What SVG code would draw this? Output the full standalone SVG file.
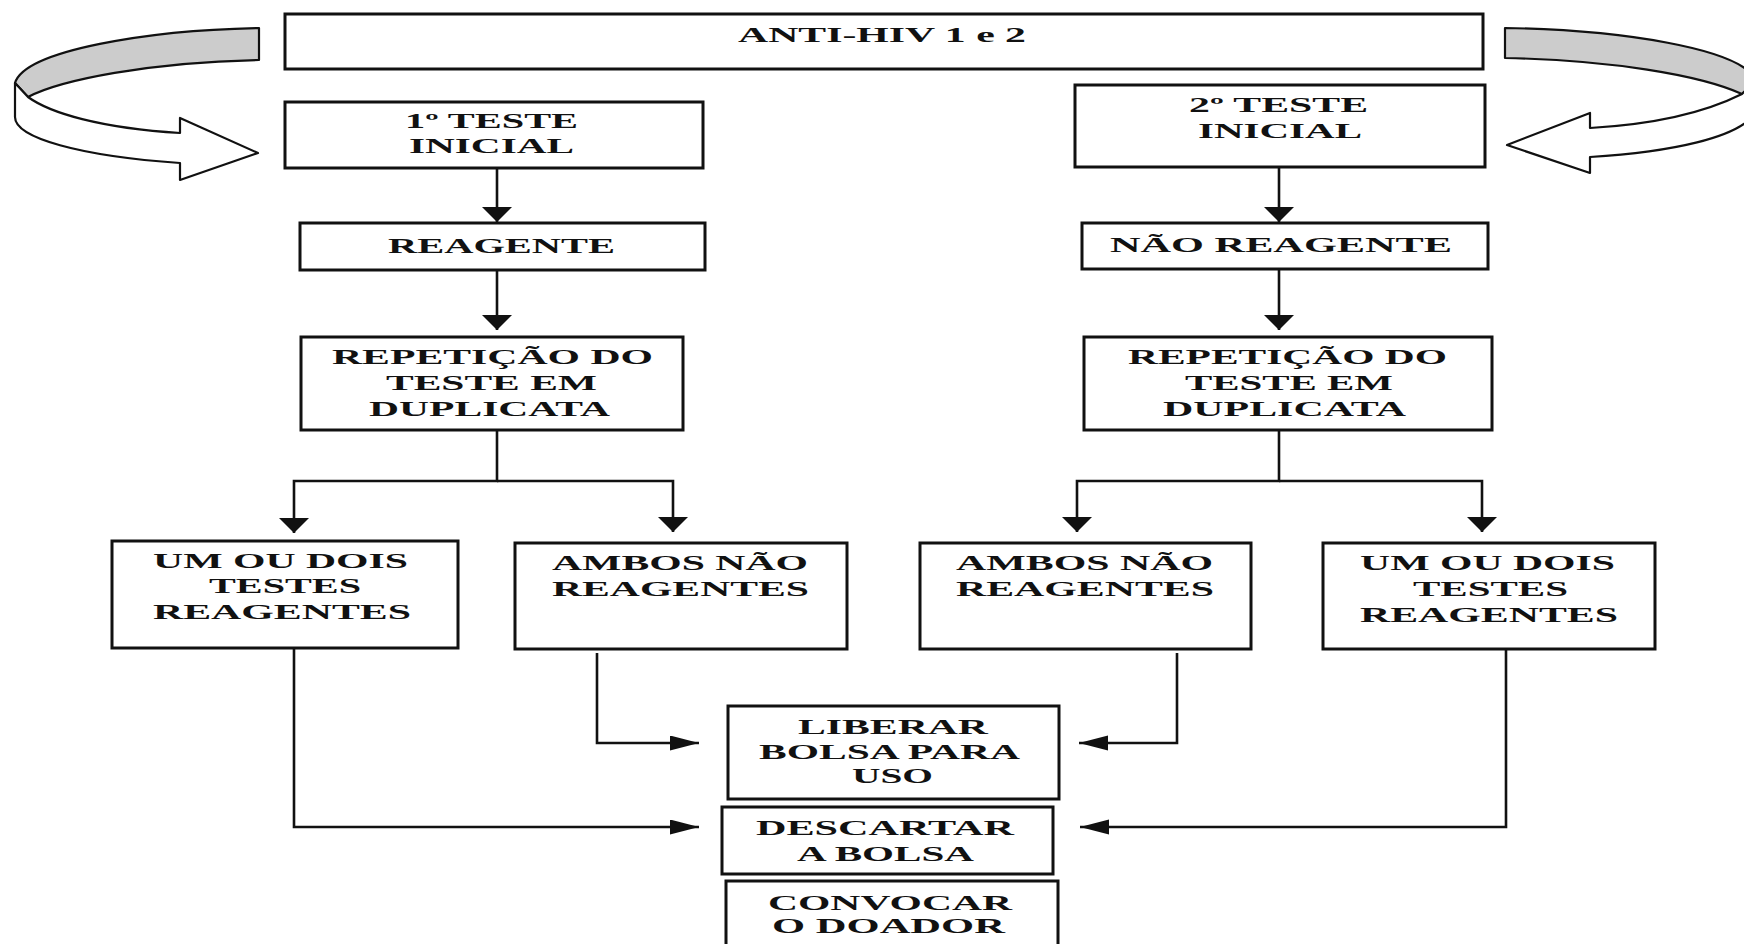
<svg xmlns="http://www.w3.org/2000/svg" width="1744" height="944" viewBox="0 0 1744 944">
<style>
.box{fill:#fff;stroke:#111;stroke-width:3}
.t{font-family:"Liberation Serif","Times New Roman",serif;font-weight:bold;font-size:21px;fill:#111}
.ln{fill:none;stroke:#111;stroke-width:2.6}
.rib{stroke:#111;stroke-width:2.2;stroke-linejoin:round}
</style>
<defs>
<marker id="av" viewBox="0 0 16 31" markerWidth="16" markerHeight="31" refX="15" refY="15" orient="auto" markerUnits="userSpaceOnUse"><path d="M0,0 L15,15 L0,30 Z" fill="#111"/></marker>
<marker id="ah" viewBox="0 0 30 16" markerWidth="30" markerHeight="16" refX="29" refY="7.5" orient="auto" markerUnits="userSpaceOnUse"><path d="M0,0 L29,7.5 L0,15 Z" fill="#111"/></marker>
</defs>
<rect width="1744" height="944" fill="#fff"/>
<g id="connectors">
<g id="curveL">
<path class="rib" fill="#cccccc" d="M259,28 C150,30 25,50 15,83 L28,97 C60,80 150,62 259,60 Z"/>
<path class="rib" fill="#fff" d="M15,83 L15,117 C15,138 80,156 180,163 L180,180 L258,153 L180,118 L180,133 C100,128 50,113 28,97 Z"/>
</g>
<g id="curveR">
<path class="rib" fill="#cccccc" d="M1505,28 C1620,30 1740,48 1756,80 L1742,94 C1700,75 1610,60 1505,58 Z"/>
<path class="rib" fill="#fff" d="M1756,80 L1756,112 C1740,138 1670,152 1590,157 L1590,173 L1507,145 L1590,113 L1590,128 C1660,124 1710,110 1742,94 Z"/>
</g>
<path class="ln" d="M497,168 V222" marker-end="url(#av)"/>
<path class="ln" d="M497,270 V330" marker-end="url(#av)"/>
<path class="ln" d="M497,430 V481 H294 V533" marker-end="url(#av)"/>
<path class="ln" d="M497,481 H673 V532" marker-end="url(#av)"/>
<path class="ln" d="M1279,167 V222" marker-end="url(#av)"/>
<path class="ln" d="M1279,269 V330" marker-end="url(#av)"/>
<path class="ln" d="M1279,430 V481 H1077 V532" marker-end="url(#av)"/>
<path class="ln" d="M1279,481 H1482 V532" marker-end="url(#av)"/>
<path class="ln" d="M294,648 V827 H699" marker-end="url(#ah)"/>
<path class="ln" d="M597,653 V743 H699" marker-end="url(#ah)"/>
<path class="ln" d="M1177,653 V743 H1079" marker-end="url(#ah)"/>
<path class="ln" d="M1506,649 V827 H1080" marker-end="url(#ah)"/>
</g>
<g id="anti-hiv">
<rect class="box" x="285" y="14" width="1198" height="55"/>
<text class="t" x="738" y="42" textLength="288" lengthAdjust="spacingAndGlyphs">ANTI-HIV 1 e 2</text>
</g>
<g id="teste1">
<rect class="box" x="285" y="102" width="418" height="66"/>
<text class="t" x="405" y="128" textLength="173" lengthAdjust="spacingAndGlyphs">1º TESTE</text>
<text class="t" x="409" y="153" textLength="165" lengthAdjust="spacingAndGlyphs">INICIAL</text>
</g>
<g id="teste2">
<rect class="box" x="1075" y="85" width="410" height="82"/>
<text class="t" x="1189" y="112" textLength="179" lengthAdjust="spacingAndGlyphs">2º TESTE</text>
<text class="t" x="1198" y="138" textLength="164" lengthAdjust="spacingAndGlyphs">INICIAL</text>
</g>
<g id="reagente">
<rect class="box" x="300" y="223" width="405" height="47"/>
<text class="t" x="388" y="253" textLength="227" lengthAdjust="spacingAndGlyphs">REAGENTE</text>
</g>
<g id="nao-reagente">
<rect class="box" x="1082" y="223" width="406" height="46"/>
<text class="t" x="1110" y="252" textLength="342" lengthAdjust="spacingAndGlyphs">NÃO REAGENTE</text>
</g>
<g id="repeticao1">
<rect class="box" x="301" y="337" width="382" height="93"/>
<text class="t" x="332" y="364" textLength="321" lengthAdjust="spacingAndGlyphs">REPETIÇÃO DO</text>
<text class="t" x="386" y="390" textLength="211" lengthAdjust="spacingAndGlyphs">TESTE EM</text>
<text class="t" x="369" y="416" textLength="241" lengthAdjust="spacingAndGlyphs">DUPLICATA</text>
</g>
<g id="repeticao2">
<rect class="box" x="1084" y="337" width="408" height="93"/>
<text class="t" x="1128" y="364" textLength="319" lengthAdjust="spacingAndGlyphs">REPETIÇÃO DO</text>
<text class="t" x="1185" y="390" textLength="208" lengthAdjust="spacingAndGlyphs">TESTE EM</text>
<text class="t" x="1163" y="416" textLength="243" lengthAdjust="spacingAndGlyphs">DUPLICATA</text>
</g>
<g id="um-dois-1">
<rect class="box" x="112" y="541" width="346" height="107"/>
<text class="t" x="153" y="568" textLength="255" lengthAdjust="spacingAndGlyphs">UM OU DOIS</text>
<text class="t" x="209" y="593" textLength="152" lengthAdjust="spacingAndGlyphs">TESTES</text>
<text class="t" x="153" y="619" textLength="258" lengthAdjust="spacingAndGlyphs">REAGENTES</text>
</g>
<g id="ambos-1">
<rect class="box" x="515" y="543" width="332" height="106"/>
<text class="t" x="552" y="570" textLength="256" lengthAdjust="spacingAndGlyphs">AMBOS NÃO</text>
<text class="t" x="552" y="596" textLength="257" lengthAdjust="spacingAndGlyphs">REAGENTES</text>
</g>
<g id="ambos-2">
<rect class="box" x="920" y="543" width="331" height="106"/>
<text class="t" x="956" y="570" textLength="257" lengthAdjust="spacingAndGlyphs">AMBOS NÃO</text>
<text class="t" x="956" y="596" textLength="258" lengthAdjust="spacingAndGlyphs">REAGENTES</text>
</g>
<g id="um-dois-2">
<rect class="box" x="1323" y="543" width="332" height="106"/>
<text class="t" x="1360" y="570" textLength="255" lengthAdjust="spacingAndGlyphs">UM OU DOIS</text>
<text class="t" x="1413" y="596" textLength="155" lengthAdjust="spacingAndGlyphs">TESTES</text>
<text class="t" x="1360" y="622" textLength="258" lengthAdjust="spacingAndGlyphs">REAGENTES</text>
</g>
<g id="liberar">
<rect class="box" x="728" y="706" width="331" height="93"/>
<text class="t" x="798" y="734" textLength="190" lengthAdjust="spacingAndGlyphs">LIBERAR</text>
<text class="t" x="759" y="759" textLength="261" lengthAdjust="spacingAndGlyphs">BOLSA PARA</text>
<text class="t" x="852" y="783" textLength="81" lengthAdjust="spacingAndGlyphs">USO</text>
</g>
<g id="descartar">
<rect class="box" x="722" y="807" width="331" height="67"/>
<text class="t" x="756" y="835" textLength="258" lengthAdjust="spacingAndGlyphs">DESCARTAR</text>
<text class="t" x="797" y="861" textLength="177" lengthAdjust="spacingAndGlyphs">A BOLSA</text>
</g>
<g id="convocar">
<rect class="box" x="726" y="881" width="332" height="80"/>
<text class="t" x="768" y="910" textLength="244" lengthAdjust="spacingAndGlyphs">CONVOCAR</text>
<text class="t" x="772" y="933" textLength="233" lengthAdjust="spacingAndGlyphs">O DOADOR</text>
</g>
</svg>
